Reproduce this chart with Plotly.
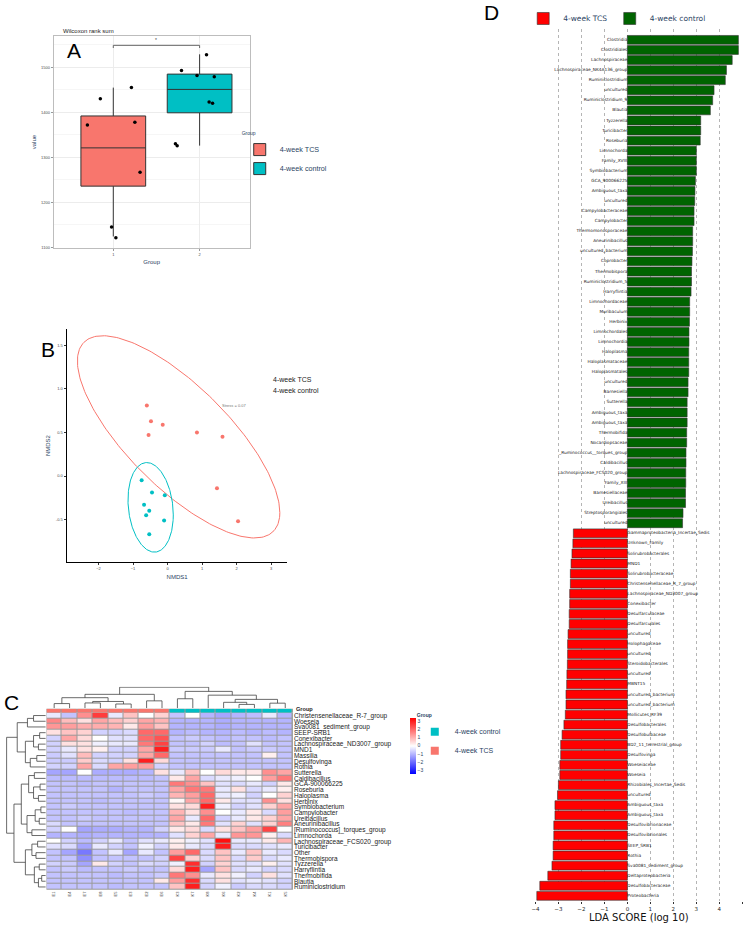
import numpy as np
import plotly.graph_objects as go

W, H = 744, 925
SANS = "Liberation Sans, Arial, sans-serif"
MPL = "DejaVu Sans, sans-serif"


def px_x(v):
    return v / W


def px_y(v):
    return 1 - v / H


# ---------------- panel A : alpha diversity boxplot ----------------
a_groups = ["4-week TCS", "4-week control"]
a_colors = ["#F8766D", "#00BFC4"]
a_positions = [1, 2]
a_ticklabels = ["1", "2"]
a_q1 = [1236, 1399]
a_median = [1321, 1451]
a_q3 = [1392, 1485]
a_lower = [1124, 1326]
a_upper = [1455, 1529]
a_tcs_values = [1430, 1455, 1372, 1378, 1267, 1145, 1121]
a_tcs_jitter = [-0.15, 0.21, -0.30, 0.25, 0.31, -0.02, 0.03]
a_ctrl_values = [1493, 1482, 1528, 1479, 1423, 1420, 1330, 1326]
a_ctrl_jitter = [-0.21, -0.03, 0.08, 0.17, 0.11, 0.15, -0.28, -0.26]
a_sig_y = 1549
a_sig_label = "*"

# ---------------- panel B : NMDS ----------------
b_tcs_x = [-0.60, -0.48, -0.14, -0.55, 0.85, 1.59, 1.43, 2.04]
b_tcs_y = [0.81, 0.63, 0.59, 0.47, 0.50, 0.45, -0.14, -0.52]
b_ctrl_x = [-0.75, -0.45, -0.08, -0.68, -0.53, -0.62, -0.10, -0.53]
b_ctrl_y = [-0.05, -0.19, -0.22, -0.33, -0.40, -0.45, -0.51, -0.67]
b_tcs_ell_center = [0.32, 0.45]
b_tcs_ell_matrix = [[8.58, -2.55], [-2.55, 1.35]]
b_ctrl_ell_center = [-0.49, -0.36]
b_ctrl_ell_matrix = [[0.43, -0.057], [-0.057, 0.265]]
b_stress = "Stress = 0.07"

# ---------------- panel C : heatmap ----------------
c_rows = ["Christensenellaceae_R-7_group", "Woeseia", "Sva0081_sediment_group", "SEEP-SRB1",
          "Conexibacter", "Lachnospiraceae_ND3007_group", "MND1", "Massilia", "Desulfovinga",
          "Rothia", "Sutterella", "Caldibacillus", "GCA-900066225", "Roseburia", "Haloplasma",
          "Herbinix", "Symbiobacterium", "Campylobacter", "Ureibacillus", "Aneurinibacillus",
          "[Ruminococcus]_torques_group", "Limnochorda", "Lachnospiraceae_FCS020_group",
          "Turicibacter", "Other", "Thermobispora", "Tyzzerella", "Harryflintia",
          "Thermobifida", "Blautia", "Ruminiclostridium"]
c_cols = ["E1", "E4", "E7", "E8", "E5", "E3", "E2", "E6",
          "K3", "K7", "K8", "K6", "K2", "K4", "K1", "K5"]
c_col_group = [0, 0, 0, 0, 0, 0, 0, 0, 1, 1, 1, 1, 1, 1, 1, 1]
c_values = [
    [-0.3, -0.8, 1.5, 2.6, -0.3, 0.8, 0.0, 0.6, -0.8, 0.0, -1.0, -1.2, -1.0, -0.9, -0.3, -1.0],
    [1.6, 0.9, 0.4, 1.2, 0.9, 0.6, 1.2, 1.0, -1.0, -1.0, -1.0, -1.1, -1.0, -1.0, -1.0, -1.0],
    [1.4, 1.3, 1.1, 1.1, 1.0, 0.3, 1.3, 0.8, -1.0, -1.0, -1.0, -1.1, -1.0, -1.0, -1.0, -1.0],
    [0.4, 0.8, 0.6, -0.6, -0.6, -0.5, 2.0, 2.0, -1.0, -0.9, -1.0, -1.0, -0.9, -1.0, -0.9, -1.0],
    [-0.6, 1.2, 0.5, 0.0, -0.4, -0.4, 2.0, 2.3, -0.8, -0.7, -0.8, -0.9, -0.8, -0.8, -0.9, -0.8],
    [-0.6, 0.4, 0.4, -0.2, -0.3, -0.3, 1.8, 2.5, -0.8, -0.8, -0.6, -0.9, -0.8, -0.4, -0.8, -0.8],
    [-0.6, -0.3, 0.4, 0.2, -0.6, -0.6, 1.2, 3.0, -0.7, -0.7, -0.7, -0.3, -0.8, -0.7, -0.7, -0.8],
    [-0.7, -0.4, 0.9, -0.6, -0.6, -0.6, 1.2, 2.0, -0.8, -0.8, -0.8, -0.8, -0.8, -0.8, 0.2, -0.8],
    [-0.7, -0.7, 0.7, -0.5, -0.6, 0.4, 3.0, 0.5, -0.8, -0.8, -0.8, -0.8, -0.8, -0.8, -0.8, -0.8],
    [-0.6, -0.6, 1.2, -0.5, 1.2, 1.3, 1.3, -0.6, -0.8, -0.8, -0.8, -0.8, -0.8, -0.8, -0.8, -0.8],
    [-1.2, -1.2, 0.0, -1.1, -1.1, -1.1, -1.0, 0.4, -0.3, 0.8, 0.0, 0.5, 0.3, 0.3, 1.5, 1.2],
    [-0.9, -0.9, -0.9, -0.9, -0.9, -0.9, -0.9, -0.8, 0.3, 1.2, -0.5, -0.3, -0.2, 0.0, 1.3, 1.8],
    [-0.8, -0.8, -0.9, -0.8, -0.8, -0.8, -0.8, -0.8, 1.8, 1.5, 0.8, -0.4, -0.5, -0.3, -0.6, 0.3],
    [-0.8, -0.8, -0.8, -0.8, -1.0, -0.8, -0.8, -0.8, 1.2, 1.8, 1.8, -0.3, 0.4, -0.5, -0.3, 0.2],
    [-0.8, -0.8, -0.8, -0.8, -0.8, -0.8, -0.7, -0.8, 1.0, 1.3, 2.0, -0.3, -0.2, -0.6, 0.0, 0.6],
    [-0.8, -0.8, -0.8, -0.9, -0.8, -0.8, -0.8, -0.8, 0.1, 1.2, 2.0, 0.3, -0.4, -0.4, 1.5, 0.4],
    [-0.8, -0.7, -0.8, -0.8, -0.8, -0.8, -0.8, -0.8, 0.4, 0.5, 3.0, -0.2, -0.6, -0.4, 0.6, 1.2],
    [-0.8, -0.8, -0.8, -0.8, -0.8, -0.9, -0.8, -0.8, 1.0, 0.4, 1.5, 0.0, -0.3, 0.3, -0.5, 1.3],
    [-0.8, -0.8, -0.7, -0.8, -0.8, -0.8, -0.8, -0.8, 1.2, -0.3, 2.0, -0.6, -0.3, 0.3, 0.6, 1.2],
    [-0.5, -0.8, -0.8, -0.8, -0.8, -0.8, -0.8, -0.8, 0.8, 0.3, 1.8, -0.4, 0.6, -0.4, 0.6, 1.7],
    [-0.6, 0.0, -1.2, -1.1, -1.1, -1.0, -1.0, -0.6, 0.3, 0.5, -0.5, 0.4, 0.8, 1.3, 2.5, 0.0],
    [-1.0, -1.0, -1.1, -1.0, -1.0, -1.0, -1.0, -1.0, -0.4, 0.6, 1.2, -0.3, 1.4, 1.4, 0.2, -0.5],
    [0.0, -0.6, -0.9, -0.6, -0.3, -0.8, -0.4, -0.3, 0.2, -0.2, -0.4, 3.2, -0.3, -0.3, 0.3, 1.0],
    [-0.4, -0.5, -1.2, -0.3, -0.6, -0.8, -0.2, -0.6, 0.3, -0.3, -0.5, 3.0, -0.5, -0.5, -0.4, -0.3],
    [-0.8, -1.2, -1.8, -0.8, -0.3, -1.2, -0.3, -0.8, 1.3, 2.0, -0.5, 0.8, -0.3, 0.8, -0.3, -0.5],
    [-0.8, -0.8, -1.5, -0.8, -0.8, -0.8, -0.8, -0.6, 2.5, 0.6, -0.5, 0.8, -0.5, 0.7, -0.5, -0.3],
    [-0.6, -0.7, -1.2, 0.3, -0.6, -0.8, -0.5, -0.6, -0.2, 2.8, -0.6, 0.6, -0.4, -0.4, 0.2, -0.4],
    [-0.8, -0.7, -0.9, -0.8, -0.8, -0.7, -0.8, -0.8, 0.5, 3.0, -1.2, 0.8, -0.5, -0.3, -0.6, -0.5],
    [-0.8, -0.8, -0.8, -0.8, -0.9, -0.8, -0.8, -0.7, 1.8, 1.5, -0.3, 0.4, -0.2, -0.6, 0.4, -0.4],
    [-0.8, -0.8, -0.8, -0.8, -0.8, -0.8, -0.8, 0.3, 1.3, 2.8, -0.5, 0.4, -0.4, -0.3, -0.4, -0.6],
    [-0.8, -0.8, -0.8, -0.8, -0.9, -0.8, -0.8, -0.8, 0.8, 3.0, -0.6, -0.2, -0.7, -0.5, -0.5, -0.6],
]
# dendrograms: (left, right, height), leaves are row / column indices
c_row_tree = (
    (((0, 1, 0.30), 2, 0.45),
     (((3, 4, 0.15), (5, 6, 0.18), 0.30), ((7, 8, 0.22), 9, 0.38), 0.50), 0.70),
    ((((10, 11, 0.28), ((12, 13, 0.14), (14, 15, 0.18), 0.30), 0.42),
      (((16, 17, 0.12), (18, 19, 0.16), 0.26), (20, 21, 0.34), 0.46), 0.60),
     (((22, 23, 0.20), (24, 25, 0.24), 0.34),
      ((26, 27, 0.16), ((28, 29, 0.10), 30, 0.18), 0.28), 0.50), 0.78),
    0.96)
c_col_tree = (
    (((0, 1, 0.22), ((2, 3, 0.25), (4, 5, 0.20), 0.32), 0.50), (6, 7, 0.35), 0.66),
    ((8, 9, 0.45), (10, ((11, (12, 13, 0.18), 0.28), (14, 15, 0.24), 0.42), 0.62), 0.80),
    1.0)

# ---------------- panel D : LEfSe LDA ----------------
d_ctrl_taxa = ["Clostridia", "Clostridiales", "Lachnospiraceae", "Lachnospiraceae_NK4A136_group",
               "Ruminiclostridium", "uncultured", "Ruminiclostridium_9", "Blautia", "Tyzzerella",
               "Turicibacter", "Roseburia", "Limnochorda", "Family_XVIII", "Symbiobacterium",
               "GCA_900066225", "Ambiguous_taxa", "uncultured", "Campylobacteraceae",
               "Campylobacter", "Thermomonosporaceae", "Aneurinibacillus", "uncultured_bacterium",
               "Coprobacter", "Thermobispora", "Ruminiclostridium_5", "Harryflintia",
               "Limnochordaceae", "Muribaculum", "Herbinix", "Limnochordales", "Limnochordia",
               "Haloplasma", "Haloplasmataceae", "Haloplasmatales", "uncultured", "Barnesiella",
               "Sutterella", "Ambiguous_taxa", "Ambiguous_taxa", "Thermobifida", "Nocardiopsaceae",
               "_Ruminococcus__torques_group", "Caldibacillus", "Lachnospiraceae_FCS020_group",
               "Family_XIII", "Barnesiellaceae", "Ureibacillus", "Streptosporangiales", "uncultured"]
d_ctrl_lda = [4.83, 4.83, 4.56, 4.31, 4.26, 3.77, 3.71, 3.61, 3.19, 3.19, 3.17, 3.00, 3.00, 3.00,
              2.96, 2.94, 2.93, 2.90, 2.90, 2.84, 2.84, 2.83, 2.81, 2.79, 2.79, 2.77, 2.71, 2.71,
              2.70, 2.68, 2.68, 2.67, 2.67, 2.67, 2.64, 2.64, 2.60, 2.60, 2.60, 2.58, 2.58, 2.55,
              2.55, 2.54, 2.54, 2.53, 2.53, 2.42, 2.40]
d_tcs_taxa = ["Gammaproteobacteria_Incertae_Sedis", "Unknown_Family", "Solirubrobacterales", "MND1",
              "Solirubrobacteraceae", "Christensenellaceae_R_7_group", "Lachnospiraceae_ND3007_group",
              "Conexibacter", "Desulfarculaceae", "Desulfarculales", "uncultured",
              "Holophagaceae", "uncultured", "Steroidobacterales", "uncultured", "MBNT15",
              "uncultured_bacterium", "uncultured_bacterium", "Mollicutes_RF39",
              "Desulfobacterales", "Desulfobulbaceae", "BD2_11_terrestrial_group", "Desulfovinga",
              "Woeseiaceae", "Woeseia", "Rhizobiales_Incertae_Sedis", "uncultured",
              "Ambiguous_taxa", "Ambiguous_taxa", "Desulfovibrionaceae", "Desulfovibrionales",
              "SEEP_SRB1", "Rothia", "Sva0081_sediment_group", "Deltaproteobacteria",
              "Desulfobacteraceae", "Proteobacteria"]
d_tcs_lda = [-2.35, -2.37, -2.41, -2.45, -2.48, -2.48, -2.51, -2.51, -2.53, -2.53, -2.58, -2.60,
             -2.60, -2.61, -2.63, -2.64, -2.67, -2.67, -2.70, -2.76, -2.84, -2.90, -2.90, -2.94,
             -2.94, -3.00, -3.04, -3.15, -3.15, -3.20, -3.20, -3.23, -3.23, -3.28, -3.46, -3.81,
             -3.94]
d_ticks = [-4, -3, -2, -1, 0, 1, 2, 3, 4, 5]


def dendro_lines(node, pos, hgt):
    if isinstance(node, int):
        return float(node), 0.0
    left, right, h = node
    pl, hl = dendro_lines(left, pos, hgt)
    pr, hr = dendro_lines(right, pos, hgt)
    pos += [pl, pl, pr, pr, None]
    hgt += [hl, h, h, hr, None]
    return (pl + pr) / 2, h


def ellipse(center, matrix, n=240):
    t = np.linspace(0, 2 * np.pi, n)
    L = np.linalg.cholesky(np.array(matrix))
    pts = L @ np.vstack([np.cos(t), np.sin(t)])
    return pts[0] + center[0], pts[1] + center[1]


fig = go.Figure()

# ---- A
for i in range(2):
    fig.add_trace(go.Box(x=[a_positions[i]], q1=[a_q1[i]], median=[a_median[i]], q3=[a_q3[i]],
                         lowerfence=[a_lower[i]], upperfence=[a_upper[i]], name=a_groups[i],
                         fillcolor=a_colors[i], line=dict(color="#333333", width=1),
                         width=0.75, whiskerwidth=0, boxpoints=False,
                         xaxis="x", yaxis="y", legend="legend"))
for pos, vals, jit in [(a_positions[0], a_tcs_values, a_tcs_jitter),
                       (a_positions[1], a_ctrl_values, a_ctrl_jitter)]:
    fig.add_trace(go.Scatter(x=pos + np.array(jit), y=vals, mode="markers",
                             marker=dict(color="black", size=3.5), showlegend=False,
                             xaxis="x", yaxis="y"))
fig.add_trace(go.Scatter(x=[a_positions[0], a_positions[0], a_positions[1], a_positions[1]],
                         y=[a_sig_y - 6, a_sig_y, a_sig_y, a_sig_y - 6], mode="lines",
                         line=dict(color="#666666", width=1), showlegend=False,
                         xaxis="x", yaxis="y"))
fig.add_annotation(x=sum(a_positions) / 2, y=a_sig_y, text=a_sig_label, showarrow=False,
                   xref="x", yref="y", yanchor="bottom", font=dict(size=5, color="#444"))

# ---- B
for xs, ys, col, ctr, mat in [(b_tcs_x, b_tcs_y, "#F8766D", b_tcs_ell_center, b_tcs_ell_matrix),
                              (b_ctrl_x, b_ctrl_y, "#00BFC4", b_ctrl_ell_center, b_ctrl_ell_matrix)]:
    ex, ey = ellipse(ctr, mat)
    fig.add_trace(go.Scatter(x=ex, y=ey, mode="lines", line=dict(color=col, width=1),
                             showlegend=False, xaxis="x2", yaxis="y2"))
    fig.add_trace(go.Scatter(x=xs, y=ys, mode="markers", marker=dict(color=col, size=4),
                             showlegend=False, xaxis="x2", yaxis="y2"))
fig.add_annotation(x=1.93, y=0.81, text=b_stress, showarrow=False, xref="x2", yref="y2",
                   font=dict(size=4, color="#777"))

# ---- C
rx, ry = [], []
dendro_lines(c_row_tree, ry, rx)
fig.add_trace(go.Scatter(x=rx, y=ry, mode="lines", line=dict(color="#444", width=0.8),
                         showlegend=False, xaxis="x4", yaxis="y4"))
cx, cy = [], []
dendro_lines(c_col_tree, cx, cy)
fig.add_trace(go.Scatter(x=cx, y=cy, mode="lines", line=dict(color="#444", width=0.8),
                         showlegend=False, xaxis="x5", yaxis="y5"))
fig.add_trace(go.Heatmap(z=c_values, x=list(range(len(c_cols))), y=list(range(len(c_rows))),
                         zmin=-3.4, zmax=3.4, xgap=1, ygap=1,
                         colorscale=[[0, "#0000FF"], [0.5, "#FFFFFF"], [1, "#FF0000"]],
                         colorbar=dict(x=px_x(408), xanchor="left", y=px_y(719), yanchor="top",
                                       len=56 / H, thickness=6, outlinewidth=0, xpad=0, ypad=0,
                                       tickvals=[-3, -2, -1, 0, 1, 2, 3],
                                       tickfont=dict(size=5, family=SANS)),
                         xaxis="x3", yaxis="y3"))
fig.add_trace(go.Heatmap(z=[c_col_group], x=list(range(len(c_cols))), zmin=0, zmax=1, xgap=1,
                         colorscale=[[0, "#F8766D"], [0.5, "#F8766D"], [0.5, "#00BFC4"], [1, "#00BFC4"]],
                         showscale=False, xaxis="x6", yaxis="y6"))
for name, col in [("4-week control", "#00BFC4"), ("4-week TCS", "#F8766D")]:
    fig.add_trace(go.Scatter(x=[None], y=[None], mode="markers", name=name,
                             marker=dict(symbol="square", size=8, color=col),
                             legend="legend3", xaxis="x3", yaxis="y3"))

# ---- D
fig.add_trace(go.Bar(x=d_tcs_lda, y=list(range(len(d_ctrl_taxa), len(d_ctrl_taxa) + len(d_tcs_taxa))),
                     orientation="h", name="4-week TCS", width=0.88,
                     marker=dict(color="#FF0000", line=dict(color="#333333", width=0.6)),
                     xaxis="x7", yaxis="y7", legend="legend2"))
fig.add_trace(go.Bar(x=d_ctrl_lda, y=list(range(len(d_ctrl_taxa))), orientation="h",
                     name="4-week control", width=0.88,
                     marker=dict(color="#006400", line=dict(color="#333333", width=0.6)),
                     xaxis="x7", yaxis="y7", legend="legend4"))
fig.add_trace(go.Scatter(x=[0] * len(d_ctrl_taxa), y=list(range(len(d_ctrl_taxa))), mode="text",
                         text=d_ctrl_taxa, textposition="middle left",
                         textfont=dict(size=4.3, family=MPL, color="#222"),
                         showlegend=False, xaxis="x7", yaxis="y7"))
fig.add_trace(go.Scatter(x=[0] * len(d_tcs_taxa),
                         y=list(range(len(d_ctrl_taxa), len(d_ctrl_taxa) + len(d_tcs_taxa))),
                         mode="text", text=d_tcs_taxa, textposition="middle right",
                         textfont=dict(size=4.3, family=MPL, color="#222"),
                         showlegend=False, xaxis="x7", yaxis="y7"))

n_rows = len(c_rows)
n_cols = len(c_cols)
n_bars = len(d_ctrl_taxa) + len(d_tcs_taxa)
tick_small = dict(size=4, color="#4d4d4d", family=SANS)
d_legend_style = dict(yanchor="top", xanchor="left", orientation="h",
                      font=dict(size=7.5, family=MPL), itemwidth=30, bgcolor="rgba(0,0,0,0)")

fig.update_layout(
    width=W, height=H, margin=dict(l=0, r=0, t=0, b=0),
    paper_bgcolor="white", plot_bgcolor="white", font=dict(family=SANS),
    barmode="overlay", showlegend=True,
    # A
    xaxis=dict(domain=[px_x(50), px_x(247)], anchor="y", range=[0.31, 2.58], tickvals=a_positions,
               ticktext=a_ticklabels, tickfont=tick_small, showgrid=True, gridcolor="#ececec",
               showline=True, mirror=True, linecolor="#bdbdbd", ticks="outside", ticklen=2,
               tickcolor="#999", zeroline=False,
               title=dict(text="Group", font=dict(size=6), standoff=3)),
    yaxis=dict(domain=[px_y(248), px_y(35)], anchor="x", range=[1098, 1570], dtick=100,
               tickfont=tick_small, showgrid=True, gridcolor="#ececec",
               minor=dict(showgrid=True, dtick=50, gridcolor="#f6f6f6"),
               showline=True, mirror=True, linecolor="#bdbdbd", ticks="outside", ticklen=2,
               tickcolor="#999", zeroline=False,
               title=dict(text="value", font=dict(size=6), standoff=3)),
    # B
    xaxis2=dict(domain=[px_x(63), px_x(285)], anchor="y2", range=[-2.92, 3.47],
                tickvals=[-2, -1, 0, 1, 2, 3],
                tickfont=tick_small, showgrid=False, zeroline=False, showline=True,
                linecolor="black", linewidth=1.3, ticks="outside", ticklen=2, tickcolor="#333",
                title=dict(text="NMDS1", font=dict(size=6), standoff=4)),
    yaxis2=dict(domain=[px_y(563), px_y(329)], anchor="x2", range=[-0.99, 1.69],
                tickvals=[-0.5, 0, 0.5, 1, 1.5], ticktext=["-0.5", "0.0", "0.5", "1.0", "1.5"],
                tickfont=tick_small, showgrid=False, zeroline=False, showline=True,
                linecolor="black", linewidth=1.3, ticks="outside", ticklen=2, tickcolor="#333",
                title=dict(text="NMDS2", font=dict(size=6), standoff=4)),
    # C heatmap
    xaxis3=dict(domain=[px_x(42.7), px_x(290.5)], anchor="y3", range=[-0.5, n_cols - 0.5],
                tickvals=list(range(n_cols)), ticktext=c_cols, tickangle=-90,
                tickfont=dict(size=4, color="#333"), showgrid=False, zeroline=False, ticks=""),
    yaxis3=dict(domain=[px_y(891.7), px_y(714)], anchor="x3", range=[n_rows - 0.5, -0.5],
                tickvals=list(range(n_rows)), ticktext=c_rows, side="right",
                tickfont=dict(size=6.5, color="#222"), showgrid=False, zeroline=False, ticks=""),
    # row dendrogram
    xaxis4=dict(domain=[px_x(1), px_x(42)], anchor="y4", range=[1.0, 0.0], visible=False),
    yaxis4=dict(domain=[px_y(891.7), px_y(714)], anchor="x4", range=[n_rows - 0.5, -0.5],
                visible=False),
    # column dendrogram
    xaxis5=dict(domain=[px_x(42.7), px_x(290.5)], anchor="y5", range=[-0.5, n_cols - 0.5],
                visible=False),
    yaxis5=dict(domain=[px_y(709.5), px_y(688)], anchor="x5", range=[0, 1.02], visible=False),
    # group bar
    xaxis6=dict(domain=[px_x(42.7), px_x(290.5)], anchor="y6", range=[-0.5, n_cols - 0.5],
                visible=False),
    yaxis6=dict(domain=[px_y(714), px_y(710)], anchor="x6", range=[-0.5, 0.5], visible=False),
    # D
    xaxis7=dict(domain=[px_x(534.3), px_x(742.3)], anchor="y7", range=[-4, 5], tickvals=d_ticks,
                tickfont=dict(size=5.5, family=MPL, color="#222"), showgrid=True,
                gridcolor="#b5b5b5", griddash="dot", gridwidth=0.8, zeroline=False,
                ticks="outside", ticklen=2, tickcolor="#333",
                title=dict(text="LDA SCORE (log 10)", font=dict(size=10, family=MPL, color="#111"),
                           standoff=3)),
    yaxis7=dict(domain=[px_y(903), px_y(27.7)], anchor="x7", range=[n_bars - 0.48, -1.12],
                visible=False),
    legend=dict(x=px_x(237), y=px_y(128), xanchor="left", yanchor="top",
                title=dict(text="Group", font=dict(size=5)), font=dict(size=7.2),
                itemwidth=30, tracegroupgap=0, bgcolor="rgba(0,0,0,0)"),
    legend2=dict(x=px_x(522), y=px_y(3), **d_legend_style),
    legend4=dict(x=px_x(609), y=px_y(3), **d_legend_style),
    legend3=dict(x=px_x(413), y=px_y(712), xanchor="left", yanchor="top",
                 title=dict(text="<b>Group</b>", font=dict(size=5)), font=dict(size=7),
                 itemwidth=30, tracegroupgap=0, bgcolor="rgba(0,0,0,0)"),
)

# grey cell borders behind the heatmap cells
for ax in ["x3", "x6"]:
    yax = "y" + ax[1:]
    fig.add_shape(type="rect", xref=ax + " domain", yref=yax + " domain", x0=0, x1=1, y0=0, y1=1,
                  fillcolor="#9a9a9a", line=dict(width=0), layer="below")

# titles and panel letters
fig.add_annotation(x=px_x(57), y=px_y(30), xref="paper", yref="paper", text="Wilcoxon rank sum",
                   showarrow=False, xanchor="left", yanchor="middle", font=dict(size=6, color="#222"))
fig.add_annotation(x=px_x(292), y=px_y(710), xref="paper", yref="paper", text="<b>Group</b>",
                   showarrow=False, xanchor="left", yanchor="middle", font=dict(size=5.6, color="#222"))
fig.add_annotation(x=px_x(268), y=px_y(380), xref="paper", yref="paper", text="4-week TCS",
                   showarrow=False, xanchor="left", yanchor="middle", font=dict(size=7, color="#222"))
fig.add_annotation(x=px_x(268), y=px_y(391), xref="paper", yref="paper", text="4-week control",
                   showarrow=False, xanchor="left", yanchor="middle", font=dict(size=7, color="#222"))
for letter, lx, ly in [("A", 70, 50), ("B", 44, 350), ("C", 8, 704), ("D", 490, 12)]:
    fig.add_annotation(x=px_x(lx), y=px_y(ly), xref="paper", yref="paper", text=letter,
                       showarrow=False, xanchor="center", yanchor="middle",
                       font=dict(size=21, color="black", family="Liberation Sans, Arial"))

# the page's default body margin would push the 744x925 figure off the window
fig.write_html("out.html", config={"displayModeBar": False},
               post_script="document.body.style.margin='0px';")
